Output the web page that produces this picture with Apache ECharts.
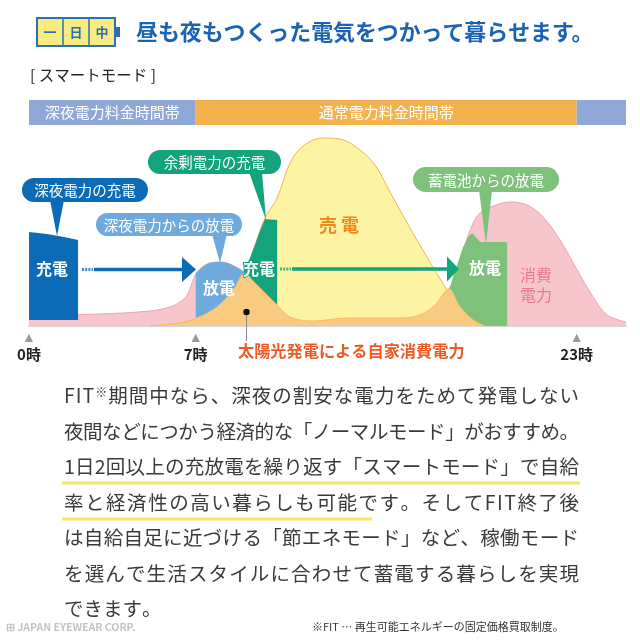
<!DOCTYPE html>
<html><head><meta charset="utf-8">
<script src="https://cdn.jsdelivr.net/npm/echarts@6/dist/echarts.min.js"></script>
<style>html,body{margin:0;padding:0;background:#fff}#c{width:640px;height:640px}</style>
</head><body><div id="c"></div>
<script>
// ---- data (hours of day, relative power) ----
const hourTicks = [0, 7, 23];
const bandNames = ['深夜電力料金時間帯', '通常電力料金時間帯', ''];
const bandStarts = [0, 7, 23];
const bandEnds = [7, 23, 25.07];

const consHours = [0, 2.98, 5.08, 5.92, 6.34, 6.64, 6.85, 7.06, 7.48, 8.02, 8.44, 8.95, 9.37, 9.79, 10.42, 10.96, 11.93, 13.36, 14.74, 15.58, 16.42, 17.05, 17.68, 18.02, 18.31, 18.65, 18.94, 19.49, 20.20, 20.92, 21.59, 22.30, 23.02, 23.69, 24.28, 25.07];
const consValues = [5.5, 6, 7.5, 9.5, 12, 15.5, 21.5, 27, 31, 32, 31, 27.5, 23, 18, 10.5, 4.5, 2.5, 4, 4, 4, 5.5, 10.5, 19.5, 29, 40.5, 51.5, 56.5, 60, 62, 60.5, 54.5, 43, 28, 14.5, 5.5, 2];

const solarHours = [5.08, 5.63, 6.34, 7.06, 7.90, 8.57, 9.07, 9.49, 9.91, 10.42, 10.96, 11.51, 12.35, 13.06, 13.90, 14.53, 15.16, 16.00, 16.84, 17.56, 18.10, 18.65, 19.15];
const solarValues = [0, 0.5, 1.5, 4, 9.5, 18, 26.5, 40.5, 54, 64, 81.5, 90, 94, 93.5, 88, 80.5, 67, 49, 32, 18, 9.5, 3, 0];

const selfUseHours = [5.08, 5.63, 6.34, 7.06, 7.90, 8.57, 9.07, 9.37, 9.79, 10.42, 10.96, 11.93, 13.36, 14.74, 15.58, 16.42, 17.05, 17.64, 18.10, 18.65, 19.15];
const selfUseValues = [0, 0.5, 1.5, 4, 9.5, 18, 26.5, 23, 18, 10.5, 4.5, 2.5, 4, 4, 4, 5.5, 10.5, 18.5, 9.5, 3, 0];

const nightChargeHours = [0, 1.0, 2.06];
const nightChargeValues = [47, 45.5, 43];
const nightChargeBase = 3;

const morningDischargeHours = [7.0, 7.06, 7.48, 8.02, 8.44, 8.99];
const morningDischargeValues = [26.5, 27, 31, 32, 31, 27.5];

const surplusChargeHours = [8.99, 9.28, 9.49, 9.70, 9.91, 10.42];
const surplusChargeValues = [27, 34, 40.5, 47.5, 53.5, 53];

const eveningDischargeHours = [17.68, 17.77, 18.02, 18.23, 18.44, 18.61, 18.94, 20.08];
const eveningDischargeValues = [19, 23, 32, 39.5, 44.5, 46.5, 42, 42];

const paragraph = [
  'FIT※期間中なら、深夜の割安な電力をためて発電しない',
  '夜間などにつかう経済的な「ノーマルモード」がおすすめ。',
  '1日2回以上の充放電を繰り返す「スマートモード」で自給',
  '率と経済性の高い暮らしも可能です。そしてFIT終了後',
  'は自給自足に近づける「節エネモード」など、稼働モード',
  'を選んで生活スタイルに合わせて蓄電する暮らしを実現',
  'できます。'
];

const pairs = (h, v) => h.map((x, i) => [x, v[i]]);
const FONT = "'Noto Sans CJK JP', 'Noto Sans', sans-serif";

function areaSeries(name, h, v, fill, stroke, z, smooth, extra) {
  return Object.assign({
    name, type: 'line', data: pairs(h, v), z, smooth, symbol: 'none', silent: true,
    lineStyle: stroke ? { color: stroke, width: 1 } : { width: 0 },
    areaStyle: { color: fill, opacity: 1 }
  }, extra || {});
}

const bandColors = ['#8EA7D6', '#F4B24E', '#8EA7D6'];

const chart = echarts.init(document.getElementById('c'), null, { renderer: 'canvas' });

function txt(text, x, y, size, color, weight, align, extra) {
  return { type: 'text', z: 100, style: Object.assign({ text, x, y, fill: color, fontSize: size, fontFamily: FONT, fontWeight: weight || 'normal', textAlign: align || 'left', textVerticalAlign: 'middle' }, extra || {}) };
}
function pill(x, y, w, h, color, tail, label) {
  return [
    { type: 'rect', z: 90, shape: { x, y, width: w, height: h, r: h / 2 }, style: { fill: color } },
    { type: 'polygon', z: 90, shape: { points: tail }, style: { fill: color } },
    txt(label, x + w / 2, y + h / 2 + 0.5, 14.5, '#fff', 'normal', 'center')
  ];
}
function arrow(x0, x1, x2, y, color) {
  return [
    { type: 'line', z: 90, shape: { x1: x0, y1: y, x2: x0 + 11, y2: y }, style: { stroke: color, lineWidth: 3, lineDash: [2, 1.2], opacity: 0.8 } },
    { type: 'line', z: 90, shape: { x1: x0 + 12, y1: y, x2: x1 + 1, y2: y }, style: { stroke: color, lineWidth: 3.5 } },
    { type: 'polygon', z: 90, shape: { points: [[x1, y - 12.5], [x2, y], [x1, y + 12.5]] }, style: { fill: color } }
  ];
}

// justified paragraph: each character placed individually
const measureCtx = document.createElement('canvas').getContext('2d');
const PSIZE = 19.5;
function charSize(ch) { return ch === '※' ? 12 : PSIZE; }
function charWidth(ch) {
  measureCtx.font = 'normal ' + charSize(ch) + 'px ' + FONT;
  return measureCtx.measureText(ch).width;
}
function justifiedLine(line, x0, x1, y, justify) {
  const chars = Array.from(line);
  const widths = chars.map(charWidth);
  const natural = widths.reduce((a, b) => a + b, 0);
  const gap = justify && chars.length > 1 ? (x1 - x0 - natural) / (chars.length - 1) : 0;
  const out = [];
  let x = x0;
  chars.forEach((ch, i) => {
    const sup = ch === '※';
    out.push(txt(ch, x, y + (sup ? -4 : 0), charSize(ch), '#3a3a3a', 'normal', 'left'));
    x += widths[i] + gap;
  });
  return out;
}

const graphics = [];
// highlight underlines
graphics.push({ type: 'line', z: 80, shape: { x1: 62, y1: 483, x2: 580, y2: 483 }, style: { stroke: '#F7E663', lineWidth: 3 } });
graphics.push({ type: 'line', z: 80, shape: { x1: 62, y1: 519, x2: 372, y2: 519 }, style: { stroke: '#F7E663', lineWidth: 3 } });
paragraph.forEach((line, i) => graphics.push(...justifiedLine(line, 64, 579, 396 + i * 35.5, i < paragraph.length - 1)));

// header battery
graphics.push({ type: 'rect', z: 90, shape: { x: 37, y: 18, width: 78, height: 28 }, style: { fill: '#F8EC7E', stroke: '#2A6FBA', lineWidth: 2 } });
graphics.push({ type: 'line', z: 91, shape: { x1: 63, y1: 18, x2: 63, y2: 46 }, style: { stroke: '#2A6FBA', lineWidth: 1.5 } });
graphics.push({ type: 'line', z: 91, shape: { x1: 89, y1: 18, x2: 89, y2: 46 }, style: { stroke: '#2A6FBA', lineWidth: 1.5 } });
graphics.push({ type: 'rect', z: 90, shape: { x: 116, y: 27, width: 4, height: 10 }, style: { fill: '#2A6FBA' } });
graphics.push(txt('一', 50, 32.5, 13, '#2A6FBA', 'bold', 'center'));
graphics.push(txt('日', 76, 32.5, 13, '#2A6FBA', 'bold', 'center'));
graphics.push(txt('中', 102, 32.5, 13, '#2A6FBA', 'bold', 'center'));
graphics.push(txt('昼も夜もつくった電気をつかって暮らせます。', 136, 32, 21.9, '#1A62B3', 'bold', 'left'));
graphics.push(txt('[ スマートモード ]', 30, 75, 15.5, '#222', 'normal', 'left'));

// callouts
graphics.push(...pill(22, 178, 126, 24, '#0C6BB6', [[50, 200], [64, 200], [57, 236]], '深夜電力の充電'));
graphics.push(...pill(96, 213, 146, 23, '#6FAADD', [[212, 234], [227, 234], [220, 263]], '深夜電力からの放電'));
graphics.push(...pill(148, 150, 133, 24, '#13A37D', [[249, 172], [262, 172], [266, 220]], '余剰電力の充電'));
graphics.push(...pill(413, 167, 146, 25, '#7DC17B', [[479, 190], [492, 190], [486, 244]], '蓄電池からの放電'));

// arrows
graphics.push(...arrow(82, 182, 196, 269.5, '#0C6BB6'));
graphics.push(...arrow(280, 447, 459, 269, '#13A37D'));

// area labels
graphics.push(txt('充電', 52, 269, 16, '#fff', 'bold', 'center'));
graphics.push(txt('放電', 219, 288, 16, '#fff', 'bold', 'center'));
graphics.push(txt('充電', 259, 269, 16, '#fff', 'bold', 'center', { stroke: '#13A37D', lineWidth: 2 }));
graphics.push(txt('放電', 485, 268, 16, '#fff', 'bold', 'center'));
graphics.push(txt('売 電', 339, 225, 18, '#F08A1C', 'bold', 'center'));
graphics.push(txt('消費', 536, 275, 16, '#E97A8E', 'normal', 'center'));
graphics.push(txt('電力', 536, 295, 16, '#E97A8E', 'normal', 'center'));
// solar pointer
graphics.push({ type: 'line', z: 95, shape: { x1: 246.5, y1: 312, x2: 246.5, y2: 341 }, style: { stroke: '#888', lineWidth: 1 } });
graphics.push({ type: 'circle', z: 96, shape: { cx: 246.5, cy: 312, r: 3.2 }, style: { fill: '#111' } });
graphics.push(txt('太陽光発電による自家消費電力', 238, 350.5, 16.2, '#EE5A24', 'bold', 'left'));

// footer
graphics.push(txt('※FIT … 再生可能エネルギーの固定価格買取制度。', 312, 627, 11, '#333', 'normal', 'left'));
graphics.push(txt('⊞ JAPAN EYEWEAR CORP.', 6, 627, 10.5, '#c4c4c4', 'bold', 'left'));

const option = {
  backgroundColor: '#fff',
  animation: false,
  grid: { left: 29, right: 14, top: 100, bottom: 314, containLabel: false },
  xAxis: {
    type: 'value', min: 0, max: 25.07,
    splitLine: { show: false },
    axisTick: { show: false },
    axisLine: { show: true, lineStyle: { color: '#d6d6d6', width: 2 } },
    axisLabel: {
      customValues: hourTicks,
      margin: 5,
      formatter: v => '{t|▲}\n{h|' + v + '時}',
      rich: {
        t: { color: '#9a9a9a', fontSize: 14, lineHeight: 14, align: 'center' },
        h: { color: '#222', fontSize: 15, fontWeight: 'bold', lineHeight: 19, fontFamily: FONT, align: 'center' }
      }
    }
  },
  yAxis: { type: 'value', min: 0, max: 113, show: false },
  series: [
    areaSeries('消費電力', consHours, consValues, '#F7C6CD', '#EFA4B0', 1, 0.35, {
      markArea: {
        silent: true,
        data: bandNames.map((n, i) => [
          { xAxis: bandStarts[i], yAxis: 100.5, itemStyle: { color: bandColors[i] }, label: { show: true, position: 'inside', formatter: n, color: '#fff', fontSize: 15, fontFamily: FONT } },
          { xAxis: bandEnds[i], yAxis: 113 }
        ])
      },
      markLine: {
        silent: true, symbol: 'none', label: { show: false },
        lineStyle: { color: '#c9c9c9', width: 1, type: 'solid' },
        data: [7, 23].map(h => [{ coord: [h, 0] }, { coord: [h, 115] }])
      }
    }),
    areaSeries('深夜電力の充電', nightChargeHours, nightChargeValues, '#0C6BB6', null, 2, 0.5, { areaStyle: { color: '#0C6BB6', opacity: 1, origin: nightChargeBase } }),
    areaSeries('深夜電力からの放電', morningDischargeHours, morningDischargeValues, '#6FAADD', null, 2, 0.4),
    areaSeries('蓄電池からの放電', eveningDischargeHours, eveningDischargeValues, '#7DC17B', null, 2, false),
    areaSeries('売電', solarHours, solarValues, '#FCF4A3', '#F3B450', 3, 0.35),
    areaSeries('余剰電力の充電', surplusChargeHours, surplusChargeValues, '#13A37D', null, 4, false),
    areaSeries('自家消費電力', selfUseHours, selfUseValues, '#F9CB80', '#F5BD66', 5, 0.35)
  ],
  graphic: graphics
};
chart.setOption(option);
</script>
</body></html>
